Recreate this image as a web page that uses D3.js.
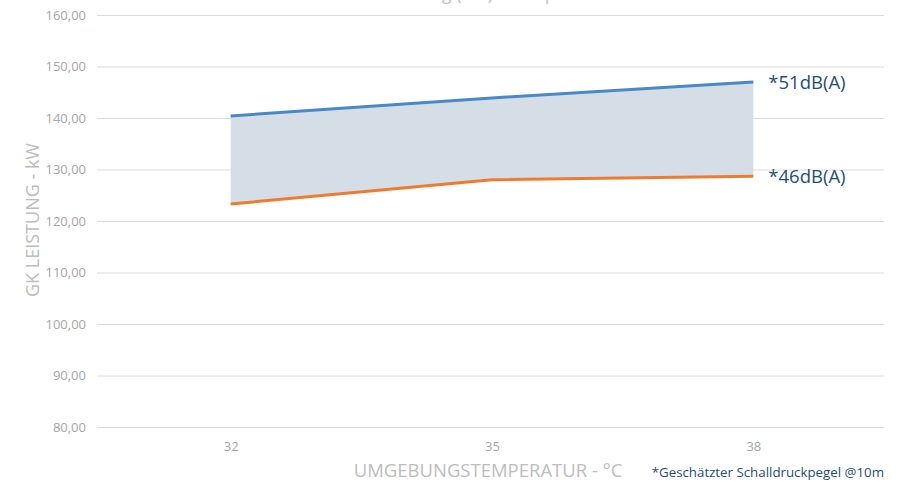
<!DOCTYPE html>
<html>
<head>
<meta charset="utf-8">
<script src="https://cdn.jsdelivr.net/npm/d3@7"></script>
<style>
  body { margin: 0; background: #fff; }
  svg, svg g { font-family: "Open Sans", sans-serif; }
  svg { display: block; }
  .grid line { stroke: #dcdcdc; }
  .grid path { display: none; }
  .axis text { fill: #a6a6a6; font-size: 13px; }
  .axis path, .axis line { display: none; }
</style>
</head>
<body>
<div id="chart"></div>
<script>
// temperatures on the x axis
var temps = ['32', '35', '38'];
// GK capacity kW at 51dB(A) and at 46dB(A)
var loud = [140.4, 143.9, 147.0];
var quiet = [123.3, 128.0, 128.7];
var seriesNames = ['*51dB(A)', '*46dB(A)'];
var yTicks = [80, 90, 100, 110, 120, 130, 140, 150, 160];

var W = 906, H = 486;
var plotL = 100, plotR = 884, plotT = 15, plotB = 427;

var svg = d3.select('#chart').append('svg')
    .attr('width', W).attr('height', H);

var x = d3.scalePoint()
    .domain(temps)
    .range([plotL, plotR])
    .padding(0.5);

var y = d3.scaleLinear()
    .domain([80, 160])
    .range([plotB, plotT]);

var fmt = v => d3.format('.2f')(v).replace('.', ',');

// horizontal grid
svg.append('g')
    .attr('class', 'grid')
    .attr('transform', `translate(${plotL - 3}, 0)`)
    .call(d3.axisLeft(y).tickValues(yTicks).tickSize(-(plotR - plotL + 3)).tickFormat(''));

svg.append('g')
    .attr('class', 'axis')
    .attr('transform', `translate(${plotL - 14}, 0)`)
    .call(d3.axisLeft(y).tickValues(yTicks).tickSize(0).tickPadding(0).tickFormat(fmt));

svg.append('g')
    .attr('class', 'axis')
    .attr('transform', `translate(0, ${plotB + 15})`)
    .call(d3.axisBottom(x).tickSize(0).tickPadding(0));

var rows = temps.map((t, i) => ({ t: t, hi: loud[i], lo: quiet[i] }));

svg.append('path')
    .datum(rows)
    .attr('fill', '#d5dee6')
    .attr('d', d3.area()
        .x(d => x(d.t))
        .y0(d => y(d.lo))
        .y1(d => y(d.hi)));

var line = key => d3.line().x(d => x(d.t)).y(d => y(d[key]));

svg.append('path')
    .datum(rows)
    .attr('fill', 'none')
    .attr('stroke', '#4a88c6')
    .attr('stroke-width', 3)
    .attr('d', line('hi'));

svg.append('path')
    .datum(rows)
    .attr('fill', 'none')
    .attr('stroke', '#ee7b30')
    .attr('stroke-width', 3)
    .attr('d', line('lo'));

// end labels
var last = temps.length - 1;
[[seriesNames[0], loud[last]], [seriesNames[1], quiet[last]]].forEach(function (s) {
    svg.append('text')
        .attr('x', x(temps[last]) + 15)
        .attr('y', y(s[1]) + 7)
        .attr('fill', '#1f4e7c')
        .style('font-size', '18.5px')
        .text(s[0]);
});

// titles
svg.append('text')
    .attr('x', 478)
    .attr('y', 0)
    .attr('text-anchor', 'middle')
    .attr('fill', '#c4c4c4')
    .style('font-size', '18px')
    .text('Kühlleistung (kW) - Temperatur');

svg.append('text')
    .attr('transform', 'translate(39, 220) rotate(-90)')
    .attr('text-anchor', 'middle')
    .attr('fill', '#bdbdbd')
    .style('font-size', '18px')
    .text('GK LEISTUNG - kW');

svg.append('text')
    .attr('x', 488)
    .attr('y', 477)
    .attr('text-anchor', 'middle')
    .attr('fill', '#bdbdbd')
    .style('font-size', '18.5px')
    .text('UMGEBUNGSTEMPERATUR - °C');

svg.append('text')
    .attr('x', 884)
    .attr('y', 477)
    .attr('text-anchor', 'end')
    .attr('fill', '#1f4e7c')
    .style('font-size', '13.3px')
    .text('*Geschätzter Schalldruckpegel @10m');
</script>
</body>
</html>
